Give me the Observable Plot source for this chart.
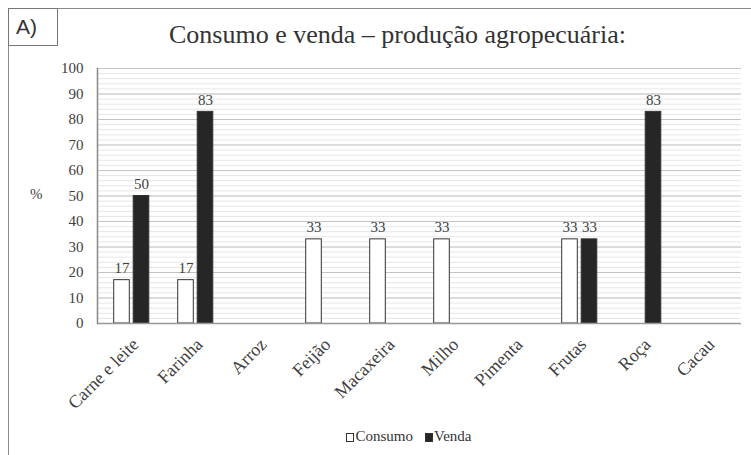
<!DOCTYPE html>
<html>
<head>
<meta charset="utf-8">
<script src="https://cdn.jsdelivr.net/npm/d3@7"></script>
<script src="https://cdn.jsdelivr.net/npm/@observablehq/plot@0.6"></script>
<style>
  html, body { margin: 0; padding: 0; background: #fff; }
  #wrap { position: relative; width: 751px; height: 455px; overflow: hidden; font-family: "Liberation Serif", serif; color: #404040; }
  #border { position: absolute; left: 8px; top: 8px; width: 780px; height: 480px; border: 1.5px solid #8a8a8a; box-sizing: border-box; }
  #tag { position: absolute; left: 8px; top: 8px; width: 50px; height: 38px; border: 1.5px solid #777; box-sizing: border-box; font-family: "Liberation Sans", sans-serif; font-size: 21px; color: #333; line-height: 36px; padding-left: 7px; }
  #title { position: absolute; left: 0; width: 795px; top: 20px; text-align: center; font-size: 26px; color: #333; }
  #ylab { position: absolute; left: 30px; top: 186px; font-size: 15px; color: #404040; }
  #chart { position: absolute; left: 0; top: 50px; }
  #legend { position: absolute; left: 0; width: 818px; top: 428px; text-align: center; font-size: 15px; color: #333; }
  .sw { display: inline-block; width: 8px; height: 9px; box-sizing: border-box; border: 1px solid #333; vertical-align: -1px; margin-right: 1px; }
</style>
</head>
<body>
<div id="wrap">
  <div id="border"></div>
  <div id="tag">A)</div>
  <div id="title">Consumo e venda – produção agropecuária:</div>
  <div id="ylab">%</div>
  <div id="chart"></div>
  <div id="legend"></div>
</div>
<script>
const categories = ["Carne e leite","Farinha","Arroz","Feijão","Macaxeira","Milho","Pimenta","Frutas","Roça","Cacau"];
const series = ["Consumo","Venda"];
const consumo = [17,17,0,33,33,33,0,33,0,0];
const venda   = [50,83,0,0,0,0,0,33,83,0];
const yTicks = [0,10,20,30,40,50,60,70,80,90,100];
const minorTicks = d3.range(0,101,2);
const colors = {Consumo: "#ffffff", Venda: "#262626"};

const consumoData = categories.map((c,i) => ({cat: c, value: consumo[i]})).filter(d => d.value > 0);
const vendaData = categories.map((c,i) => ({cat: c, value: venda[i]})).filter(d => d.value > 0);

const chart = Plot.plot({
  width: 751,
  height: 370,
  marginLeft: 97,
  marginRight: 10,
  marginTop: 18,
  marginBottom: 97,
  style: {fontFamily: "Liberation Serif, serif", fontSize: "15px", color: "#404040", background: "transparent"},
  x: {domain: categories, padding: 0, label: null},
  y: {domain: [0,100], label: null},
  marks: [
    Plot.gridY(minorTicks, {stroke: "#e6e6e6", strokeOpacity: 1}),
    Plot.gridY(yTicks, {stroke: "#c4c4c4", strokeOpacity: 1}),
    Plot.barY(consumoData, {x: "cat", y: "value", fill: colors.Consumo, stroke: "#333", strokeWidth: 1, insetLeft: 14.7, insetRight: 33.7}),
    Plot.barY(vendaData, {x: "cat", y: "value", fill: colors.Venda, stroke: "#333", strokeWidth: 1, insetLeft: 34.2, insetRight: 14.2}),
    Plot.text(consumoData, {x: "cat", y: "value", text: d => String(d.value), dx: -9.5, dy: -7, lineAnchor: "bottom", fontSize: 15, fill: "#404040"}),
    Plot.text(vendaData, {x: "cat", y: "value", text: d => String(d.value), dx: 10, dy: -7, lineAnchor: "bottom", fontSize: 15, fill: "#404040"}),
    Plot.axisY({ticks: yTicks, tickSize: 0, tickPadding: 14, fontSize: 15, label: null}),
    Plot.axisX({tickRotate: -45, tickSize: 0, tickPadding: 18, dx: 4, fontSize: 18, label: null}),
    Plot.ruleY([0], {stroke: "#999", strokeWidth: 1.5}),
    Plot.frame({anchor: "left", stroke: "#888", strokeWidth: 1.5})
  ]
});
document.getElementById("chart").appendChild(chart);

const legend = document.getElementById("legend");
series.forEach((s, i) => {
  const item = document.createElement("span");
  item.style.marginLeft = i ? "12px" : "0";
  const sw = document.createElement("span");
  sw.className = "sw";
  sw.style.background = colors[s];
  item.appendChild(sw);
  item.appendChild(document.createTextNode(s));
  legend.appendChild(item);
});
</script>
</body>
</html>
